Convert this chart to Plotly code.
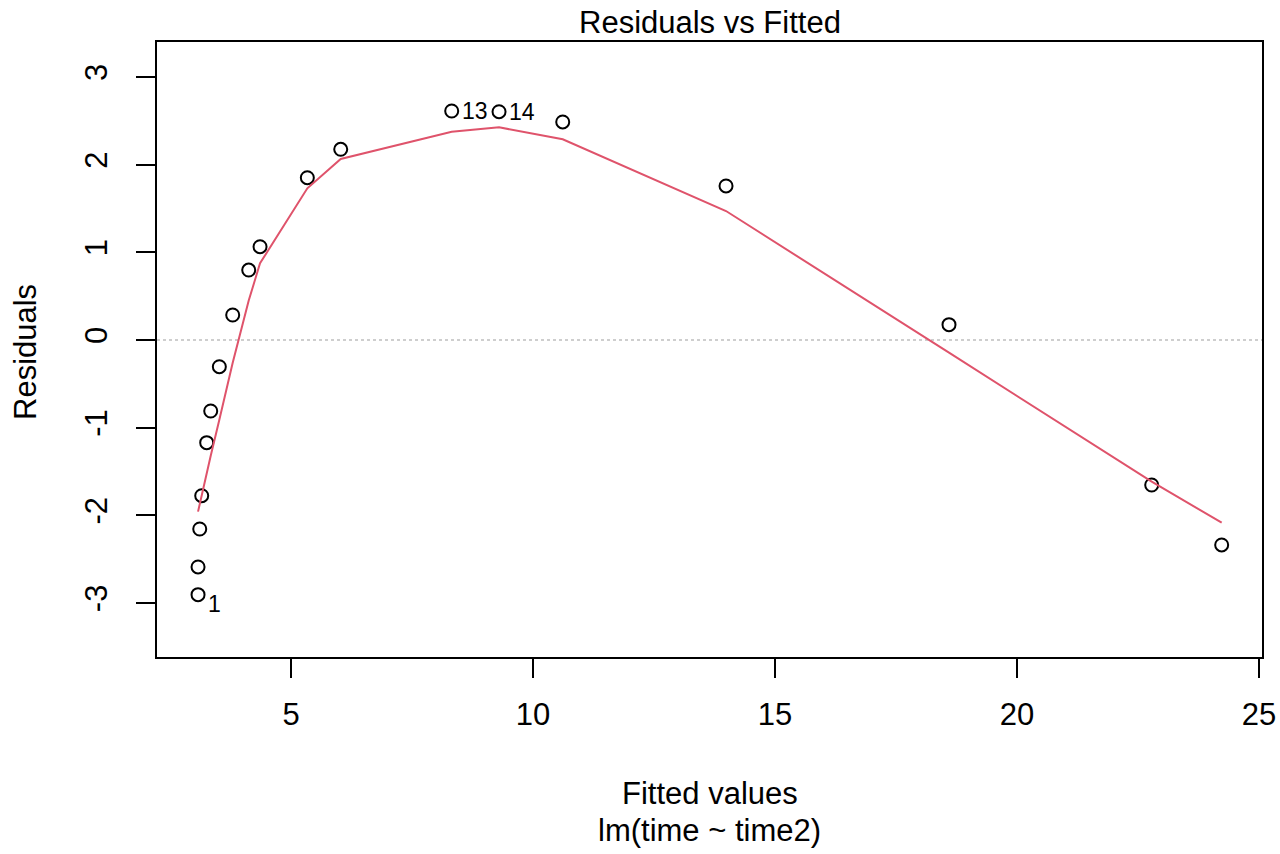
import plotly.graph_objects as go

# Data (plot.lm: Residuals vs Fitted)
fitted = [3.079, 3.079, 3.114, 3.155, 3.258, 3.341, 3.519, 3.795, 4.126, 4.360,
          5.337, 6.027, 8.320, 9.298, 10.614, 13.988, 18.595, 22.783, 24.229]
residuals = [-2.905, -2.589, -2.156, -1.776, -1.171, -0.810, -0.305, 0.285, 0.798, 1.064,
             1.851, 2.175, 2.612, 2.604, 2.487, 1.757, 0.175, -1.654, -2.338]
smooth = [-1.958, -1.958, -1.87, -1.77, -1.52, -1.32, -0.91, -0.26, 0.45, 0.875,
          1.73, 2.065, 2.376, 2.426, 2.289, 1.471, -0.145, -1.616, -2.084]
obs_ids = [str(i + 1) for i in range(len(fitted))]
labelled = ["1", "13", "14"]
x_ticks = [5, 10, 15, 20, 25]
y_ticks = [-3, -2, -1, 0, 1, 2, 3]

FONT = "Liberation Sans, Arial, sans-serif"
BIG = 31
SMALL = 23

fig = go.Figure()

# zero reference line (dotted grey)
fig.add_shape(type="line", xref="paper", x0=0, x1=1, yref="y", y0=0, y1=0,
              line=dict(color="#BEBEBE", width=1.6, dash="dot"), layer="below")

fig.add_trace(go.Scatter(
    x=fitted, y=residuals, mode="markers",
    marker=dict(symbol="circle-open", size=13, color="black", line=dict(width=2, color="black")),
    showlegend=False, hoverinfo="x+y"))

fig.add_trace(go.Scatter(
    x=fitted, y=smooth, mode="lines",
    line=dict(color="#DF536B", width=2),
    showlegend=False, hoverinfo="skip"))

for lab in labelled:
    i = obs_ids.index(lab)
    fig.add_annotation(x=fitted[i], y=residuals[i], text=lab, showarrow=False,
                       xanchor="left", yanchor="middle", xshift=8,
                       yshift=-9 if residuals[i] < 0 else 0,
                       font=dict(family=FONT, size=SMALL, color="black"))

# Title and axis titles placed as in the reference
fig.add_annotation(xref="paper", yref="paper", x=0.5, y=(657 - 23) / 615, text="Residuals vs Fitted",
                   showarrow=False, xanchor="center", yanchor="middle",
                   font=dict(family=FONT, size=BIG, color="black"))
fig.add_annotation(xref="paper", yref="paper", x=0.5, y=(657 - 793) / 615, text="Fitted values",
                   showarrow=False, xanchor="center", yanchor="middle",
                   font=dict(family=FONT, size=BIG, color="black"))
fig.add_annotation(xref="paper", yref="paper", x=0.5, y=(657 - 830) / 615, text="lm(time ~ time2)",
                   showarrow=False, xanchor="center", yanchor="middle",
                   font=dict(family=FONT, size=BIG, color="black"))
fig.add_annotation(xref="paper", yref="paper", x=(25 - 157) / 1105, y=(657 - 352) / 615, text="Residuals",
                   showarrow=False, xanchor="center", yanchor="middle", textangle=-90,
                   font=dict(family=FONT, size=BIG, color="black"))

fig.update_layout(
    width=1280, height=854, autosize=False,
    margin=dict(l=157, r=18, t=42, b=197),
    paper_bgcolor="white", plot_bgcolor="white",
    font=dict(family=FONT, size=BIG, color="black"),
    showlegend=False,
)
fig.update_xaxes(range=[2.231, 25.062], tickvals=x_ticks, ticktext=[str(v) for v in x_ticks],
                 showgrid=False, zeroline=False, showline=True, mirror=True,
                 linecolor="black", linewidth=2, ticks="outside", ticklen=19, tickwidth=1.5,
                 tickcolor="black", tickfont=dict(family=FONT, size=BIG, color="black"),
                 ticklabelstandoff=10, automargin=False, ticklabeloverflow="allow")
fig.update_yaxes(range=[-3.616, 3.399], tickvals=y_ticks, ticktext=[str(v) for v in y_ticks],
                 showgrid=False, zeroline=False, showline=True, mirror=True,
                 linecolor="black", linewidth=2, ticks="outside", ticklen=19, tickwidth=1.5,
                 tickcolor="black", tickangle=-90, tickfont=dict(family=FONT, size=BIG, color="black"),
                 ticklabelstandoff=17, automargin=False, ticklabeloverflow="allow")

fig.write_html(
    "out.html",
    config={"displayModeBar": False, "responsive": False},
    post_script="document.body.style.margin='0';document.body.style.overflow='hidden';",
)
